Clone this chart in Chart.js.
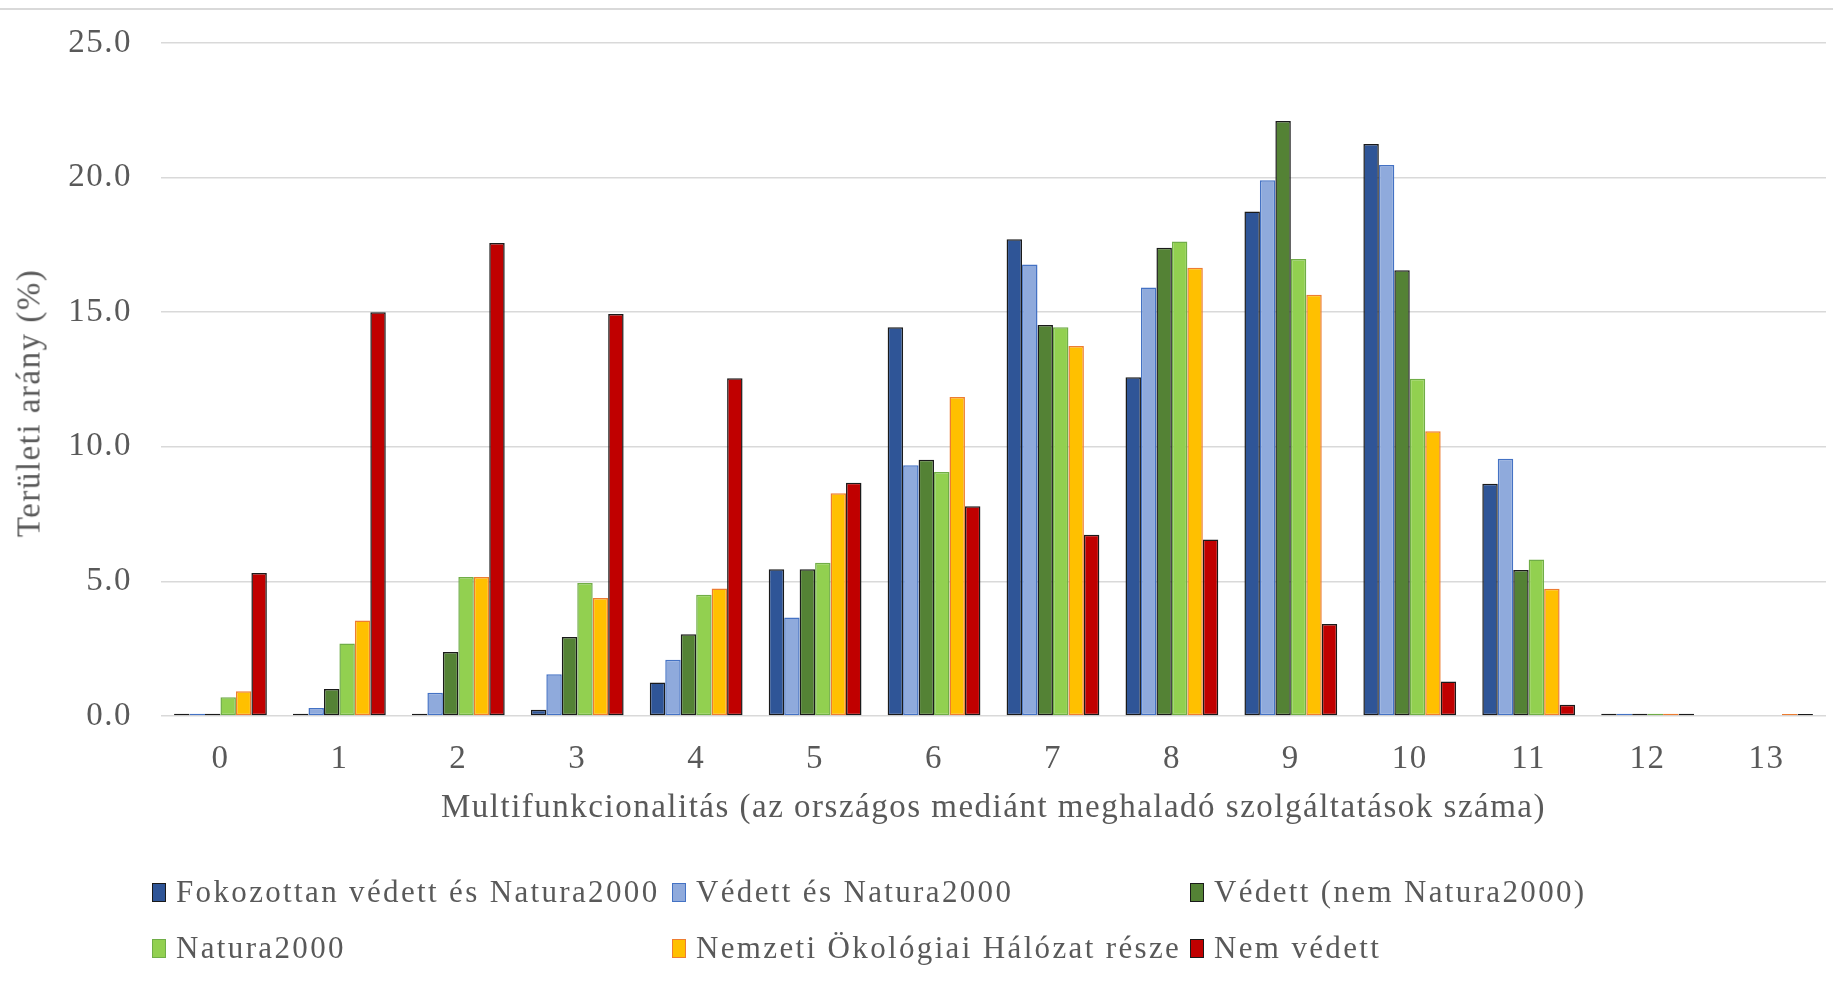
<!DOCTYPE html>
<html>
<head>
<meta charset="utf-8">
<script src="https://cdn.jsdelivr.net/npm/chart.js@4"></script>
<style>
  html, body { margin: 0; padding: 0; background: #fff; }
  #wrap { position: relative; width: 1833px; height: 986px; overflow: hidden; }
  #chart { position: absolute; left: 0; top: 0; }
  #topline { position: absolute; left: 0; top: 8px; width: 1833px; border-top: 2px solid #d9d9d9; }
  #ytitle {
    position: absolute; left: 29px; top: 403px; transform: translate(-50%, -50%) rotate(-90deg);
    font-family: "Liberation Serif", "Times New Roman", serif; font-size: 33px; color: #595959;
    letter-spacing: 1.5px; white-space: nowrap;
  }
  #legend {
    position: absolute; left: 152px; top: 864px;
    display: grid; grid-template-columns: 520px 518px auto; grid-auto-rows: 56px;
    font-family: "Liberation Serif", "Times New Roman", serif; font-size: 31px; color: #595959;
    letter-spacing: 2.35px;
  }
  .item { display: flex; align-items: center; white-space: nowrap; }
  .box { width: 12px; height: 17px; margin-right: 10px; border: 1.5px solid; flex: none; }
</style>
</head>
<body>
<div id="wrap">
  <div id="topline"></div>
  <canvas id="chart" width="1833" height="986"></canvas>
  <div id="ytitle">Területi arány (%)</div>
  <div id="legend"></div>
</div>
<script>
const categories = ["0", "1", "2", "3", "4", "5", "6", "7", "8", "9", "10", "11", "12", "13"];
const seriesNames = [
  "Fokozottan védett és Natura2000",
  "Védett és Natura2000",
  "Védett (nem Natura2000)",
  "Natura2000",
  "Nemzeti Ökológiai Hálózat része",
  "Nem védett"
];
const fokozottan = [0.08, 0.08, 0.08, 0.23, 1.24, 5.45, 14.44, 17.71, 12.58, 18.74, 21.25, 8.63, 0.08, null];
const vedettNatura = [0.08, 0.30, 0.86, 1.55, 2.09, 3.66, 9.31, 16.77, 15.92, 19.90, 20.47, 9.56, 0.08, null];
const vedett = [0.08, 1.00, 2.38, 2.93, 3.04, 5.45, 9.52, 14.52, 17.39, 22.10, 16.56, 5.42, 0.08, null];
const natura = [0.70, 2.69, 5.16, 4.94, 4.50, 5.69, 9.06, 14.44, 17.63, 16.98, 12.53, 5.81, 0.08, null];
const nemzeti = [0.92, 3.55, 5.16, 4.38, 4.74, 8.27, 11.85, 13.74, 16.65, 15.65, 10.58, 4.73, 0.08, 0.07];
const nemVedett = [5.31, 15.00, 17.57, 14.93, 12.55, 8.66, 7.79, 6.73, 6.56, 3.42, 1.28, 0.42, 0.08, 0.07];
const yTickValues = [0, 5, 10, 15, 20, 25];

const fills = ["#2f5597", "#8faadc", "#548235", "#92d050", "#ffc000", "#c00000"];
const borders = ["#1a1a1a", "#4472c4", "#1a1a1a", "#70ad47", "#ed7d31", "#1a1a1a"];
const values = [fokozottan, vedettNatura, vedett, natura, nemzeti, nemVedett];

const textColor = "#595959";
const serif = "'Liberation Serif', 'Times New Roman', serif";

const datasets = seriesNames.map((name, i) => ({
    label: name,
    data: values[i],
    backgroundColor: fills[i],
    borderColor: borders[i],
    borderWidth: 1.5,
    borderSkipped: false,
    categoryPercentage: 0.78,
    barPercentage: 1.0,
}));

// the original text is a little spread out, so widen the canvas text
const spacedText = {
    id: "spacedText",
    beforeDraw(chart) { chart.ctx.letterSpacing = "1.5px"; },
};

const canvas = document.getElementById("chart");
const chart = new Chart(canvas.getContext("2d"), {
    type: "bar",
    data: { labels: categories, datasets: datasets },
    plugins: [spacedText],
    options: {
        responsive: false,
        animation: false,
        devicePixelRatio: 1,
        layout: { padding: { left: 0, right: 7, top: 43, bottom: 158 } },
        plugins: { legend: { display: false }, tooltip: { enabled: false } },
        scales: {
            x: {
                grid: { display: false, drawTicks: false },
                border: { display: false },
                ticks: { color: textColor, padding: 24, font: { family: serif, size: 33 } },
                title: {
                    display: true,
                    text: "Multifunkcionalitás (az országos mediánt meghaladó szolgáltatások száma)",
                    color: textColor,
                    font: { family: serif, size: 33 },
                    padding: { top: 0, bottom: 0 },
                },
                afterFit: (scale) => { scale.height = 112; },
            },
            y: {
                min: 0,
                max: 25,
                afterBuildTicks: (scale) => { scale.ticks = yTickValues.map(v => ({ value: v })); },
                grid: { color: "#d9d9d9", lineWidth: 1.5, drawTicks: false },
                border: { display: false },
                ticks: {
                    color: textColor,
                    padding: 29,
                    font: { family: serif, size: 33 },
                    callback: (v) => Number(v).toFixed(1),
                },
                afterFit: (scale) => {
                    scale.width = 161;
                    scale.paddingTop = 0;
                    scale.paddingBottom = 0;
                },
            },
        },
    },
});

// legend laid out as in the original: three columns, two rows
const legend = document.getElementById("legend");
datasets.forEach((ds) => {
    const item = document.createElement("div");
    item.className = "item";
    const box = document.createElement("span");
    box.className = "box";
    box.style.background = ds.backgroundColor;
    box.style.borderColor = ds.borderColor;
    const label = document.createElement("span");
    label.textContent = ds.label;
    item.appendChild(box);
    item.appendChild(label);
    legend.appendChild(item);
});
</script>
</body>
</html>
